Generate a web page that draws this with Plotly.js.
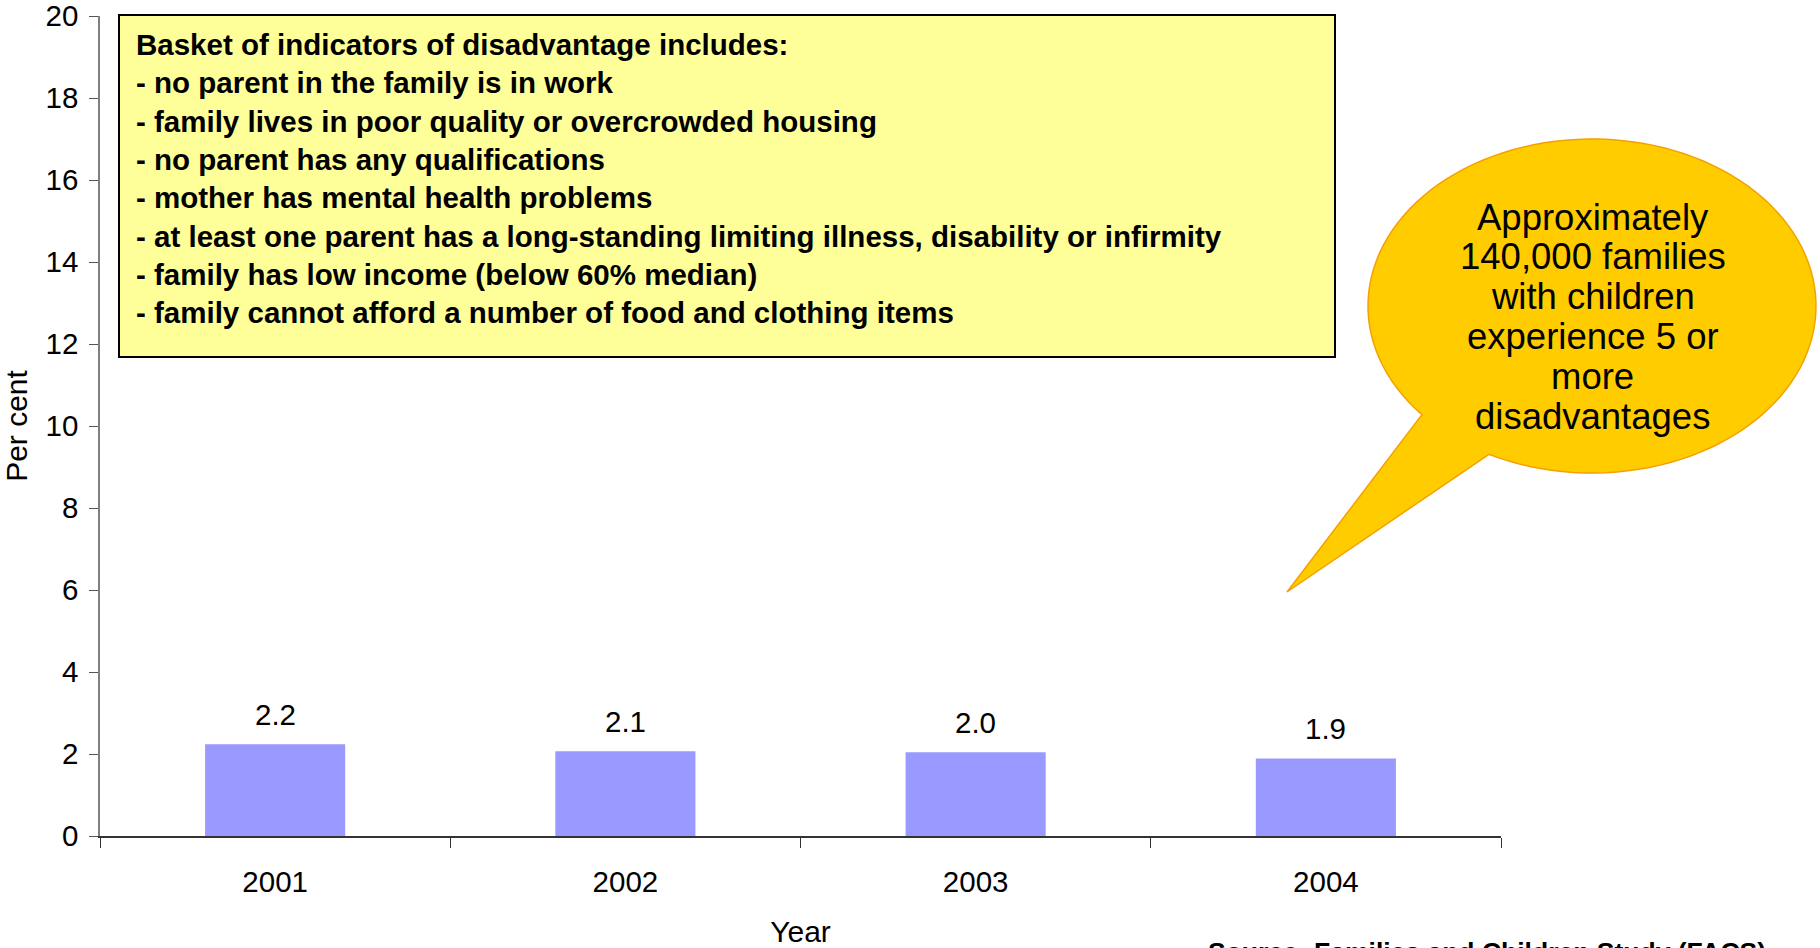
<!DOCTYPE html>
<html>
<head>
<meta charset="utf-8">
<script src="https://cdn.plot.ly/plotly-3.0.1.min.js"></script>
<style>html,body{margin:0;padding:0;background:#fff;}#chart{width:1820px;height:948px;}</style>
</head>
<body>
<div id="chart"></div>
<script>
// ---- data ----
const years = ['2001', '2002', '2003', '2004'];
const perCent = [2.24, 2.07, 2.04, 1.89];
const yTicks = [0, 2, 4, 6, 8, 10, 12, 14, 16, 18, 20];
const boxLines = [
  'Basket of indicators of disadvantage includes:',
  '- no parent in the family is in work',
  '- family lives in poor quality or overcrowded housing',
  '- no parent has any qualifications',
  '- mother has mental health problems',
  '- at least one parent has a long-standing limiting illness, disability or infirmity',
  '- family has low income (below 60% median)',
  '- family cannot afford a number of food and clothing items'
];
const calloutLines = ['Approximately', '140,000 families', 'with children', 'experience 5 or', 'more', 'disadvantages'];
const sourceText = 'Source: Families and Children Study (FACS)';

// ---- layout geometry ----
const W = 1820, H = 948, ML = 100, MR = 319, MT = 16, MB = 112;
const PW = W - ML - MR, PH = H - MT - MB;
const px = x => (x - ML) / PW;
const py = y => (H - MB - y) / PH;
const FONT = 'Liberation Sans, Arial, Helvetica, sans-serif';

// callout bubble path (ellipse + tail), pixel space -> paper
const cx = 1592, cy = 306, rx = 224, ry = 167;
const t1 = 117.4 * Math.PI / 180, t2 = (139.4 - 360) * Math.PI / 180;
let path = '';
const N = 120;
for (let i = 0; i <= N; i++) {
  const t = t1 + (t2 - t1) * i / N;
  const X = cx + rx * Math.cos(t), Y = cy + ry * Math.sin(t);
  path += (i === 0 ? 'M' : 'L') + px(X).toFixed(5) + ',' + py(Y).toFixed(5) + ' ';
}
path += 'L' + px(1287).toFixed(5) + ',' + py(592).toFixed(5) + ' Z';

const annotations = [];
// bar value labels (x = category index on the category axis)
years.forEach((yr, i) => {
  annotations.push({
    x: i, y: perCent[i], xref: 'x', yref: 'y', text: perCent[i].toFixed(1),
    showarrow: false, yanchor: 'middle', yshift: 30,
    font: {family: FONT, size: 29.5, color: '#000'}
  });
});
// indicator box text
annotations.push({
  xref: 'paper', yref: 'paper', x: px(134), y: py(26), xanchor: 'left', yanchor: 'top',
  align: 'left', showarrow: false, text: boxLines.map(s => '<b>' + s + '</b>').join('<br>'),
  font: {family: FONT, size: 29.5, color: '#000'}
});
// callout text
calloutLines.forEach((s, i) => {
  annotations.push({
    xref: 'paper', yref: 'paper', x: px(1593), y: py(217 + i * 39.9), xanchor: 'center', yanchor: 'middle',
    showarrow: false, text: s, font: {family: FONT, size: 36.5, color: '#000'}
  });
});
// source
annotations.push({
  xref: 'paper', yref: 'paper', x: px(1206), y: py(935), xanchor: 'left', yanchor: 'top',
  showarrow: false, text: '<b>' + sourceText + '</b>', font: {family: FONT, size: 26.5, color: '#000'}
});

const trace = {
  type: 'bar', x: years, y: perCent,
  marker: {color: '#9999FF', line: {width: 0}},
  hoverinfo: 'x+y'
};

const layout = {
  width: W, height: H,
  margin: {l: ML, r: MR, t: MT, b: MB, pad: 0},
  paper_bgcolor: '#fff', plot_bgcolor: '#fff',
  showlegend: false,
  bargap: 0.6,
  font: {family: FONT, size: 29.5, color: '#000'},
  xaxis: {
    type: 'category', automargin: false, autorange: false, range: [-0.5, years.length - 0.5],
    tickangle: 0,
    showline: true, linecolor: '#333', linewidth: 1.5,
    ticks: 'outside', tickson: 'boundaries', ticklen: 10, tickcolor: '#333', tickwidth: 1,
    ticklabelstandoff: 19,
    showgrid: false, zeroline: false,
    tickfont: {family: FONT, size: 29.5, color: '#000'},
    title: {text: 'Year', standoff: 25, font: {family: FONT, size: 30, color: '#000'}}
  },
  yaxis: {
    range: [0, 20.001], autorange: false, tickvals: yTicks, ticktext: yTicks.map(String), automargin: false,
    ticklabeloverflow: 'allow',
    showline: true, linecolor: '#808080', linewidth: 1.5,
    ticks: 'outside', ticklen: 9, tickcolor: '#555', tickwidth: 1,
    ticklabelstandoff: 5,
    showgrid: false, zeroline: false,
    tickfont: {family: FONT, size: 29.5, color: '#000'},
    title: {text: 'Per cent', standoff: 15, font: {family: FONT, size: 30, color: '#000'}}
  },
  shapes: [
    {type: 'rect', xref: 'paper', yref: 'paper', x0: px(119), x1: px(1335), y0: py(15), y1: py(357),
     fillcolor: '#FFFF99', line: {color: '#000', width: 2}, layer: 'above'},
    {type: 'path', xref: 'paper', yref: 'paper', path: path,
     fillcolor: '#FFCC00', line: {color: '#F5A000', width: 1.5}, layer: 'above'}
  ],
  annotations: annotations
};

Plotly.newPlot('chart', [trace], layout, {displayModeBar: false, responsive: false});
</script>
</body>
</html>
